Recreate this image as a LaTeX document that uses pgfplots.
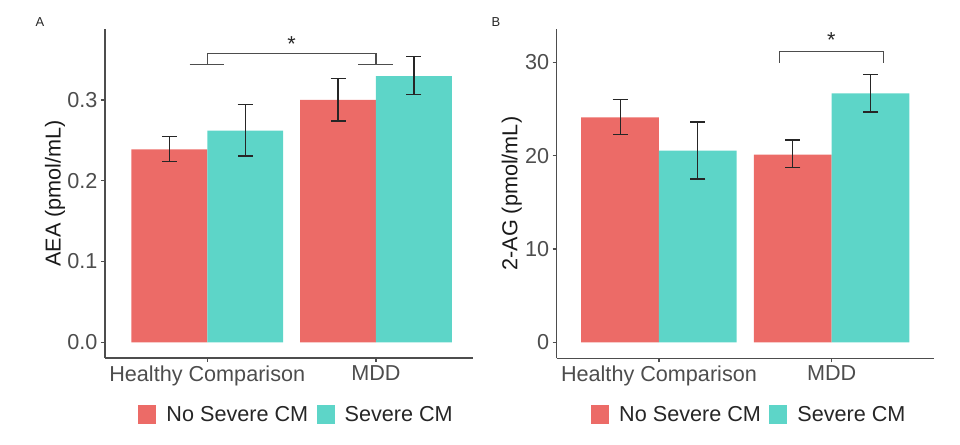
\documentclass[border=0pt]{standalone}
\usepackage{pgfplots}
\pgfplotsset{compat=1.18}
\usepackage{fontspec}
\setmainfont{Liberation Sans}
\definecolor{cmred}{HTML}{EC6B67}
\definecolor{cmteal}{HTML}{5DD5C8}
\definecolor{axgray}{HTML}{4D4D4D}
\definecolor{txtgray}{HTML}{4D4D4D}
\newcommand{\bigfont}{\fontsize{21.7}{26}\selectfont}
\pgfplotsset{
  ggbar/.style={
    scale only axis,
    clip=false,
    axis x line*=bottom, axis y line*=left,
    axis line style={draw=axgray, line width=1.1bp, -},
    tick style={draw=axgray, line width=1.1bp},
    tick align=outside,
    major tick length=4bp,
    xtick={1,2}, xticklabels={Healthy Comparison, MDD},
    ticklabel style={font=\bigfont, text=txtgray},
    /pgf/number format/assume math mode=true,
    ybar, bar width=0.45,
    error bars/y dir=both, error bars/y explicit,
    error bars/error bar style={line width=1.2bp, color=black!85},
    error bars/error mark options={rotate=90, mark size=7.5bp, line width=1.2bp, color=black!85},
    legend columns=2,
    legend cell align=left,
    legend style={draw=none, fill=none, anchor=center, font=\bigfont, text=black!85,
      inner sep=0pt, nodes={inner sep=0pt},
      /tikz/every even column/.style={column sep=8.4bp},
      /tikz/every odd column/.style={column sep=10bp}},
  },
  legbox/.style={legend image code/.code={\fill[##1, draw=none] (0bp,-9.5bp) rectangle (18bp,9.5bp);}},
}
\begin{document}
\begin{tikzpicture}
\path[use as bounding box] (0bp,0bp) rectangle (960bp,445bp);
\node[font=\fontsize{13}{15}\selectfont, text=black!85] at (40bp,422.5bp) {A};
\node[font=\fontsize{13}{15}\selectfont, text=black!85] at (496bp,423bp) {B};
% Panel A
\begin{axis}[ggbar,
  at={(105bp,87bp)}, anchor=south west,
  width=368bp, height=329bp,
  xmin=0.394, xmax=2.575, ymin=-0.0194, ymax=0.3879,
  ytick={0,0.1,0.2,0.3}, yticklabels={0.0,0.1,0.2,0.3},
  ylabel={AEA (pmol/mL)},
  every axis y label/.style={at={(axis description cs:-0.136,0.5)}, rotate=90, anchor=center, font=\bigfont, text=black!90},
  legend style={at={(axis description cs:0.518,-0.172)}},
]
\addplot[fill=cmred, draw=none, bar shift=-0.225, legbox] coordinates {
  (1,0.239) += (0,0.016) -= (0,0.0154)
  (2,0.300) += (0,0.027) -= (0,0.026)
};
\addplot[fill=cmteal, draw=none, bar shift=0.225, legbox] coordinates {
  (1,0.262) += (0,0.032) -= (0,0.0313)
  (2,0.3297) += (0,0.024) -= (0,0.0231)
};
\legend{No Severe CM, Severe CM}
\draw[axgray, line width=1.1bp] (axis cs:0.895,0.344) -- (axis cs:1.1,0.344);
\draw[axgray, line width=1.1bp] (axis cs:1.895,0.344) -- (axis cs:2.1,0.344);
\draw[axgray, line width=1.1bp] (axis cs:1,0.344) -- (axis cs:1,0.3577) -- (axis cs:2,0.3577) -- (axis cs:2,0.344);
\node[anchor=base, font=\bigfont, text=black!85, inner sep=0pt] at (axis cs:1.5,0.3597) {*};
\end{axis}
% Panel B
\begin{axis}[ggbar,
  at={(556.7bp,86.7bp)}, anchor=south west,
  width=377.3bp, height=329.3bp,
  xmin=0.408, xmax=2.592, ymin=-1.71, ymax=33.57,
  ytick={0,10,20,30}, yticklabels={0,10,20,30},
  ylabel={2-AG (pmol/mL)},
  every axis y label/.style={at={(axis description cs:-0.119,0.5)}, rotate=90, anchor=center, font=\bigfont, text=black!90},
  legend style={at={(axis description cs:0.508,-0.171)}},
]
\addplot[fill=cmred, draw=none, bar shift=-0.225, legbox] coordinates {
  (1,24.1) += (0,1.94) -= (0,1.85)
  (2,20.1) += (0,1.58) -= (0,1.35)
};
\addplot[fill=cmteal, draw=none, bar shift=0.225, legbox] coordinates {
  (1,20.53) += (0,3.07) -= (0,3.03)
  (2,26.68) += (0,1.99) -= (0,2.01)
};
\legend{No Severe CM, Severe CM}
\draw[axgray, line width=1.1bp] (axis cs:1.697,29.96) -- (axis cs:1.697,31.14) -- (axis cs:2.299,31.14) -- (axis cs:2.299,29.96);
\node[anchor=base, font=\bigfont, text=black!85, inner sep=0pt] at (axis cs:1.998,31.56) {*};
\end{axis}
\end{tikzpicture}
\end{document}
